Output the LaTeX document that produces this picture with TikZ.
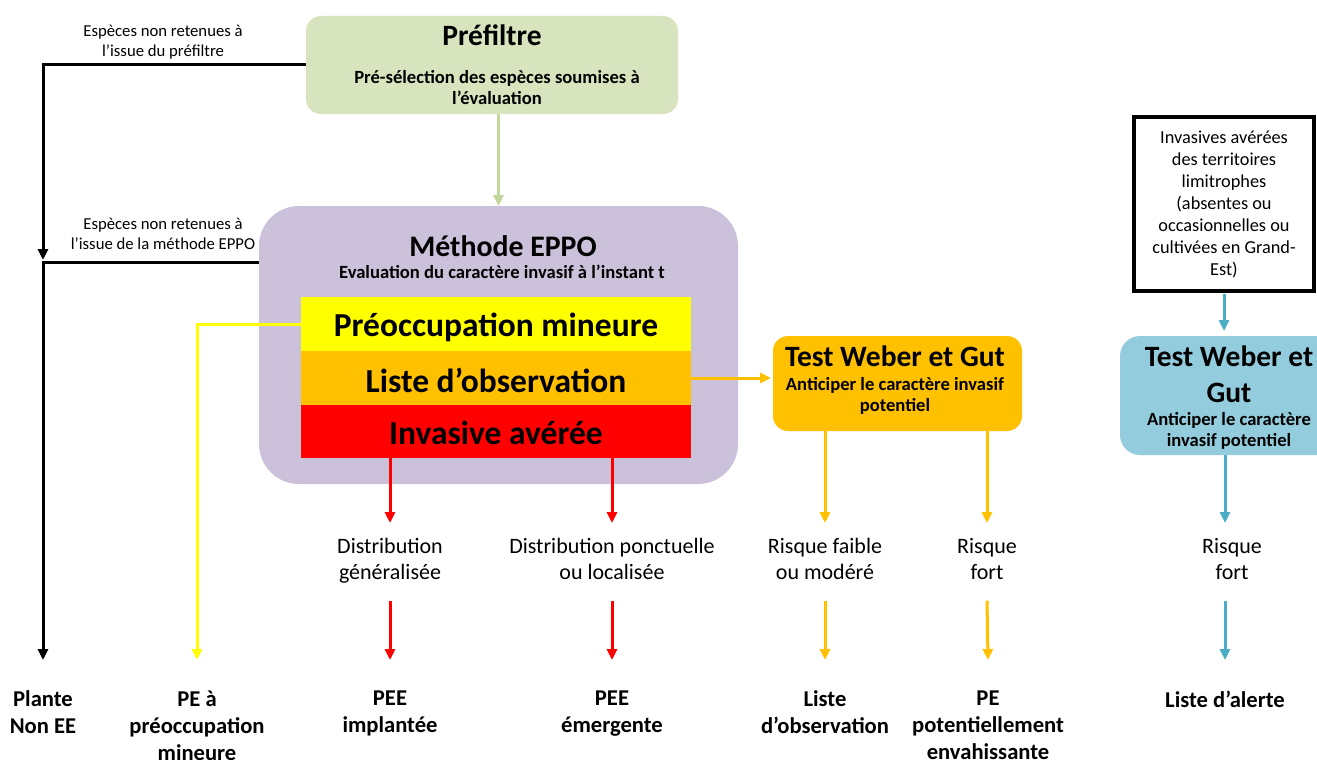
\documentclass[tikz,border=0pt]{standalone}
\usepackage{fontspec}
\setmainfont{Carlito}
\usetikzlibrary{arrows.meta}
\definecolor{cPref}{HTML}{D7E4BD}
\definecolor{cPrefA}{HTML}{C3D69B}
\definecolor{cEppo}{HTML}{CCC1DA}
\definecolor{cYel}{HTML}{FFFF00}
\definecolor{cOra}{HTML}{FFC000}
\definecolor{cRed}{HTML}{FF0000}
\definecolor{cBlue}{HTML}{93CDDD}
\definecolor{cBlueA}{HTML}{4BACC6}
\newcommand\mystrut{\rule[-6pt]{0pt}{17pt}}
\newcommand\lowerby[2]{\raisebox{-#1}[\height][\depth]{#2}}
\tikzset{
  boxn/.style={inner sep=0pt, outer sep=0pt},
  txt/.style={inner sep=0pt, outer sep=0pt, align=center},
  midlab/.style={inner sep=0pt, outer xsep=0pt, outer ysep=15pt, anchor=north, align=center,
     font=\fontsize{22}{26.5}\selectfont},
  botlab/.style={inner sep=0pt, outer xsep=0pt, outer ysep=31pt, anchor=north, align=center,
     font=\fontsize{22.6}{26.7}\selectfont\bfseries},
  smalllab/.style={txt, font=\fontsize{16.7}{20}\selectfont},
  arr/.style={line width=3pt, -{Triangle[width=10pt,length=11pt]}},
  arrK/.style={arr, draw=black},
  arrG/.style={arr, draw=cPrefA, color=cPrefA},
  arrY/.style={arr, draw=cYel, color=cYel},
  arrO/.style={arr, draw=cOra, color=cOra},
  arrR/.style={arr, draw=cRed, color=cRed},
  arrB/.style={arr, draw=cBlueA, color=cBlueA},
  band/.style={boxn, minimum width=390pt, minimum height=54pt, font=\fontsize{33.5}{38}\selectfont\bfseries},
}
\begin{document}
\begin{tikzpicture}[x=1pt,y=-1pt]
\useasboundingbox (0,0) rectangle (1317,760);
\clip (0,0) rectangle (1317,760);
\fill[white] (0,0) rectangle (1317,760);

% Prefiltre
\node[boxn, fill=cPref, rounded corners=15pt, minimum width=372pt, minimum height=98pt] (pref) at (492,65) {};
\node[txt, font=\fontsize{29.5}{34}\selectfont\bfseries] (preft) at (492,35) {Préfiltre};
\node[txt, font=\fontsize{18.6}{21}\selectfont\bfseries] (prefs) at (497,88) {Pré-sélection des espèces soumises à\\l’évaluation};

% EPPO
\node[boxn, fill=cEppo, rounded corners=40pt, minimum width=479pt, minimum height=278pt] (eppo) at (498.5,345) {};
\node[txt, font=\fontsize{29.8}{34}\selectfont\bfseries] (eppot) at (503,246) {Méthode EPPO};
\node[txt, font=\fontsize{18.6}{20}\selectfont\bfseries] (eppos) at (502,272) {Evaluation du caractère invasif à l’instant t};
\node[band, fill=cYel] (byel) at (496,324) {\lowerby{3pt}{Préoccupation mineure}};
\node[band, fill=cOra] (bora) at (496,378) {\lowerby{2pt}{Liste d’observation}};
\node[band, fill=cRed, minimum height=53pt] (bred) at (496,431.5) {\lowerby{1pt}{Invasive avérée}};

% Test Weber orange
\node[boxn, fill=cOra, rounded corners=15pt, minimum width=249pt, minimum height=95pt] (wg1) at (897.5,383.5) {};
\node[txt, font=\fontsize{29.5}{34}\selectfont\bfseries] (wg1t) at (895,356) {Test Weber et Gut};
\node[txt, font=\fontsize{18.6}{21.5}\selectfont\bfseries] (wg1s) at (895,396) {Anticiper le caractère invasif\\potentiel};

% Black box
\node[boxn, draw=black, line width=3.5pt, minimum width=180pt, minimum height=174pt, align=center,
      font=\fontsize{18.3}{22}\selectfont] (bb) at (1224,204) {Invasives avérées\\des territoires\\limitrophes\\(absentes ou\\occasionnelles ou\\cultivées en Grand-\\Est)};

% Test Weber blue
\node[boxn, fill=cBlue, rounded corners=20pt, minimum width=220pt, minimum height=119pt] (wg2) at (1230,395.5) {};
\node[txt, font=\fontsize{29.5}{36}\selectfont\bfseries] (wg2t) at (1229,374) {Test Weber et\\Gut};
\node[txt, font=\fontsize{18.6}{21}\selectfont\bfseries] (wg2s) at (1229,430.5) {Anticiper le caractère\\invasif potentiel};

% side labels
\node[smalllab] (l1) at (163,42) {Espèces non retenues à\\l’issue du préfiltre};
\node[smalllab] (l2) at (163,234) {Espèces non retenues à\\l’issue de la méthode EPPO};

% middle labels
\node[midlab] (m1) at (390,523) {\mystrut Distribution\\généralisée\mystrut};
\node[midlab] (m2) at (612,523) {\mystrut Distribution ponctuelle\\ou localisée\mystrut};
\node[midlab] (m3) at (825,523) {\mystrut Risque faible\\ou modéré\mystrut};
\node[midlab] (m4) at (987,523) {\mystrut Risque\\fort\mystrut};
\node[midlab] (m5) at (1232,523) {\mystrut Risque\\fort\mystrut};

% bottom labels
\node[botlab] (b1) at (43,660) {\mystrut Plante\\Non EE\mystrut};
\node[botlab] (b2) at (197,660) {\mystrut PE à\\préoccupation\\mineure\mystrut};
\node[botlab] (b3) at (390,660) {\mystrut PEE\\implantée\mystrut};
\node[botlab] (b4) at (612,660) {\mystrut PEE\\émergente\mystrut};
\node[botlab] (b5) at (825,660) {\mystrut Liste\\d’observation\mystrut};
\node[botlab] (b6) at (988,660) {\mystrut PE\\potentiellement\\envahissante\mystrut};
\node[botlab] (b7) at (1225,660) {\mystrut Liste d’alerte\mystrut};

\coordinate (j1) at (43,262);

% connectors
\draw[arrG] (pref.south -| eppo.north) -- (eppo.north);
\draw[arrK, shorten >=2pt] (pref.west) -| (j1);
\draw[arrK] (eppo.west |- j1) -- (j1) -- (b1.north);
\draw[arrY] (byel.west) -| (b2.north);
\draw[arrO, shorten >=2pt] (bora.east) -- (bora.east -| wg1.west);
\draw[arrR] (bred.south -| m1.north) -- (m1.north);
\draw[arrR] (m1.south) -- (b3.north);
\draw[arrR] (bred.south -| m2.north) -- (m2.north);
\draw[arrR] (m2.south) -- (b4.north);
\draw[arrO] (wg1.south -| m3.north) -- (m3.north);
\draw[arrO] (m3.south) -- (b5.north);
\draw[arrO] (wg1.south -| m4.north) -- (m4.north);
\draw[arrO] (m4.south) -- (b6.north);
\draw[arrB, shorten <=3pt, shorten >=5pt] (bb.south) -- (bb.south |- wg2.north);
\draw[arrB] (wg2.south -| b7.north) -- (m5.north -| b7.north);
\draw[arrB] (m5.south -| b7.north) -- (b7.north);
\end{tikzpicture}
\end{document}
